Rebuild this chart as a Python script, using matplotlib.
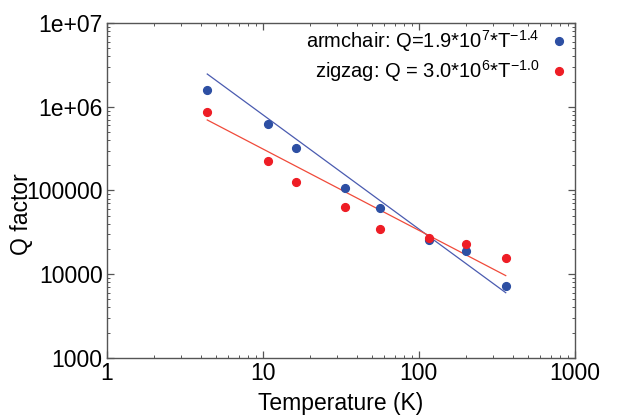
import numpy as np
import matplotlib
matplotlib.use('Agg')
import matplotlib.pyplot as plt
from matplotlib.ticker import FixedLocator, FixedFormatter, LogLocator, NullFormatter

plt.rcParams['font.family'] = 'Liberation Sans'
plt.rcParams['mathtext.fontset'] = 'custom'
plt.rcParams['mathtext.rm'] = 'Liberation Sans'
plt.rcParams['mathtext.it'] = 'Liberation Sans'

# temperatures (K)
temp = [4.4, 10.8, 16.4, 33.6, 56.6, 116, 202, 361]
q_armchair = [1.58e6, 6.3e5, 3.2e5, 1.08e5, 6.1e4, 2.57e4, 1.91e4, 7.3e3]
q_zigzag = [8.6e5, 2.27e5, 1.27e5, 6.4e4, 3.5e4, 2.69e4, 2.32e4, 1.58e4]

# fitted lines, end points
fit_temp = [4.4, 361]
fit_armchair = [2.46e6, 6.0e3]
fit_zigzag = [6.95e5, 9.6e3]

x_ticks = [1, 10, 100, 1000]
x_labels = ['1', '10', '100', '1000']
y_ticks = [1e3, 1e4, 1e5, 1e6, 1e7]
y_labels = ['1000', '10000', '100000', '1e+06', '1e+07']

blue = '#2d4fa3'
red = '#ee1d25'

fig = plt.figure(figsize=(6.18, 4.19), dpi=100)
ax = fig.add_axes([0.173, 0.146, 0.757, 0.799])

ax.plot(fit_temp, fit_armchair, color='#4a5bb0', lw=0.9)
ax.plot(fit_temp, fit_zigzag, color='#f04a3a', lw=0.9)
ax.plot(temp, q_armchair, 'o', color=blue, ms=5.6,
        label=r'armchair: Q=1.9*10$^{7}$*T$^{-1.4}$')
ax.plot(temp, q_zigzag, 'o', color=red, ms=5.6,
        label=r'zigzag: Q = 3.0*10$^{6}$*T$^{-1.0}$')

ax.set_xscale('log')
ax.set_yscale('log')
ax.set_xlim(1, 1000)
ax.set_ylim(1e3, 1e7)

ax.xaxis.set_major_locator(FixedLocator(x_ticks))
ax.xaxis.set_major_formatter(FixedFormatter(x_labels))
ax.yaxis.set_major_locator(FixedLocator(y_ticks))
ax.yaxis.set_major_formatter(FixedFormatter(y_labels))
ax.xaxis.set_minor_locator(LogLocator(base=10, subs=np.arange(2, 10)))
ax.yaxis.set_minor_locator(LogLocator(base=10, subs=np.arange(2, 10)))
ax.xaxis.set_minor_formatter(NullFormatter())
ax.yaxis.set_minor_formatter(NullFormatter())

ax.tick_params(which='both', direction='in', top=True, right=True,
               color='#555555', labelsize=16.5, pad=3)
ax.tick_params(which='major', length=5, width=0.9)
ax.tick_params(which='minor', length=2.5, width=0.7)
for s in ax.spines.values():
    s.set_color('#555555')
    s.set_linewidth(1)

ax.set_xlabel('Temperature (K)', fontsize=16.5, labelpad=5)
ax.set_ylabel('Q factor', fontsize=16.5)
ax.yaxis.set_label_coords(-0.158, 0.43)

ax.legend(loc='upper right', frameon=False, markerfirst=False, fontsize=14.5,
          handlelength=0.8, handletextpad=0.6, borderaxespad=0.2,
          labelspacing=0.2, bbox_to_anchor=(1.01, 1.02))

fig.savefig('out.png', dpi=100)
